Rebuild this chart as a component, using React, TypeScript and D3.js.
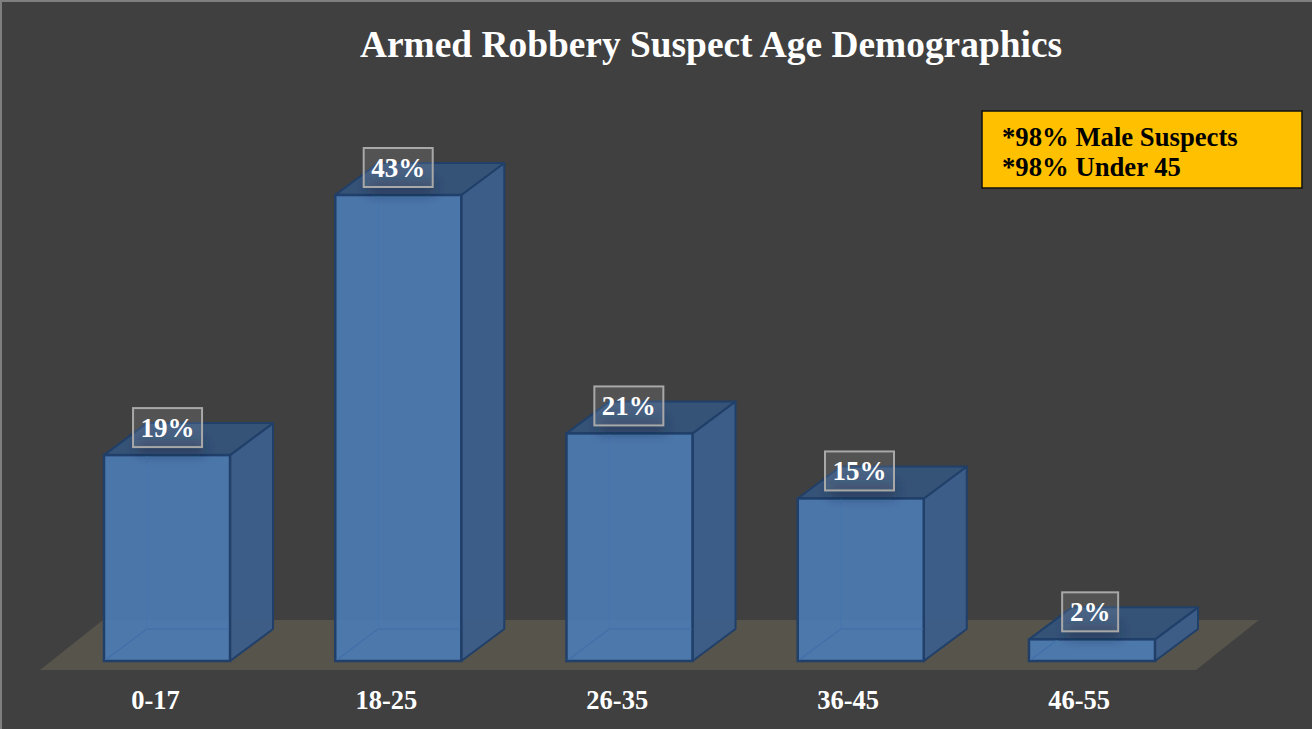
import React, { useEffect, useRef } from "react";
import * as d3 from "d3";

const categories = ["0-17", "18-25", "26-35", "36-45", "46-55"];
const values = [19, 43, 21, 15, 2];
const notes = ["*98% Male Suspects", "*98% Under 45"];
const title = "Armed Robbery Suspect Age Demographics";

const width = 1312;
const height = 729;
const serif = "'Liberation Serif', serif";

// 3d offset of the columns and the floor
const depthX = 43;
const depthY = -32;
const baseY = 661;

const App: React.FC = () => {
  const svgRef = useRef<SVGSVGElement | null>(null);

  useEffect(() => {
    document.body.style.margin = "0";
    if (!svgRef.current) return;

    const svg = d3.select(svgRef.current);
    svg.selectAll("*").remove();

    const x = d3.scaleBand<string>().domain(categories).range([104, 1155]).paddingInner(0.455).paddingOuter(0);
    // labels and ticks sit on a slightly tighter step than the columns
    const xLabel = d3.scaleBand<string>().domain(categories).range([104.7, 1153]).paddingInner(0.455).paddingOuter(0);
    const xTick = d3.scaleBand<string>().domain(categories).range([92.5, 1142]).paddingInner(0.455).paddingOuter(0);
    const y = d3.scaleLinear().domain([0, 43]).range([baseY, 195]);

    const defs = svg.append("defs");
    defs.append("filter")
      .attr("id", "soft")
      .attr("x", "-30%").attr("y", "-100%").attr("width", "160%").attr("height", "300%")
      .append("feGaussianBlur").attr("stdDeviation", 6);

    // background
    svg.append("rect").attr("width", width).attr("height", height).attr("fill", "#404040");
    svg.append("path").attr("d", `M1,${height}V1H${width}`).attr("fill", "none").attr("stroke", "#7f7f7f").attr("stroke-width", 2);

    // floor
    svg.append("path").attr("d", "M40,670L1196,670L1259,620L103,620Z").attr("fill", "#57544b");

    svg.append("text")
      .attr("x", 711).attr("y", 57)
      .attr("text-anchor", "middle")
      .style("font-family", serif).style("font-weight", "bold").style("font-size", "37.4px")
      .attr("fill", "#fff")
      .text(title);

    // columns
    const line = d3.line();
    const edge = "#203f69";
    categories.forEach((cat, i) => {
      const x0 = x(cat) ?? 0;
      const x1 = x0 + x.bandwidth();
      const top = y(values[i]);
      const g = svg.append("g");

      defs.append("clipPath").attr("id", `front-${i}`)
        .append("rect")
        .attr("x", x0 + 1).attr("y", top + 1)
        .attr("width", x.bandwidth() - 2).attr("height", baseY - top - 2);

      g.append("path")
        .attr("d", line([[x1, top], [x1 + depthX, top + depthY], [x1 + depthX, baseY + depthY], [x1, baseY]]) + "Z")
        .attr("fill", "#3c5e89").attr("fill-opacity", 0.97)
        .attr("stroke", edge).attr("stroke-width", 2).attr("stroke-linejoin", "round");
      g.append("path")
        .attr("d", line([[x0, top], [x0 + depthX, top + depthY], [x1 + depthX, top + depthY], [x1, top]]) + "Z")
        .attr("fill", "#355277")
        .attr("stroke", edge).attr("stroke-width", 2).attr("stroke-linejoin", "round");
      g.append("rect")
        .attr("x", x0).attr("y", top)
        .attr("width", x.bandwidth()).attr("height", baseY - top)
        .attr("fill", "#4c7cb6").attr("fill-opacity", 0.9)
        .attr("stroke", edge).attr("stroke-width", 2.5);

      // back edges, seen through the front face
      g.append("path")
        .attr("clip-path", `url(#front-${i})`)
        .attr("d", line([[x0, baseY], [x0 + depthX, baseY + depthY], [x1, baseY + depthY]]))
        .attr("fill", "none").attr("stroke", "#4270a9").attr("stroke-width", 1.5);
      g.append("path")
        .attr("clip-path", `url(#front-${i})`)
        .attr("d", line([[x0 + depthX, baseY + depthY], [x0 + depthX, top]]))
        .attr("fill", "none").attr("stroke", "#4675ae").attr("stroke-width", 1);
    });

    // value labels
    categories.forEach((cat, i) => {
      const center = (xLabel(cat) ?? 0) + xLabel.bandwidth() / 2;
      const top = y(values[i]);
      const label = `${values[i]}%`;
      const boxW = values[i] < 10 ? 56 : 69;
      const boxX = center - boxW / 2;
      const boxY = top - 47;
      svg.append("rect")
        .attr("x", boxX + 4).attr("y", boxY + 32)
        .attr("width", boxW - 2).attr("height", 14)
        .attr("fill", "#16263e").attr("fill-opacity", 0.42)
        .attr("filter", "url(#soft)");
      svg.append("rect")
        .attr("x", boxX).attr("y", boxY)
        .attr("width", boxW).attr("height", 39)
        .attr("fill", "#ffffff").attr("fill-opacity", 0.1)
        .attr("stroke", "#a8a8a8").attr("stroke-width", 2);
      svg.append("text")
        .attr("x", center).attr("y", boxY + 29)
        .attr("text-anchor", "middle")
        .style("font-family", serif).style("font-weight", "bold").style("font-size", "27px")
        .attr("fill", "#fff")
        .text(label);
    });

    // category axis
    const axis = svg.append("g")
      .attr("transform", `translate(0,${baseY})`)
      .call(d3.axisBottom(xTick).tickSize(0).tickPadding(29));
    axis.select(".domain").remove();
    axis.selectAll("text")
      .attr("fill", "#fff")
      .style("font-family", serif).style("font-weight", "bold").style("font-size", "26.5px");

    // note box
    svg.append("rect")
      .attr("x", 982).attr("y", 111).attr("width", 320).attr("height", 77)
      .attr("fill", "#ffc000").attr("stroke", "#111").attr("stroke-width", 1.5);
    notes.forEach((note, i) => {
      svg.append("text")
        .attr("x", 1002).attr("y", 146 + i * 30)
        .style("font-family", serif).style("font-weight", "bold").style("font-size", "26.7px")
        .attr("fill", "#000")
        .text(note);
    });
  }, []);

  return <svg ref={svgRef} width={width} height={height} style={{ display: "block" }}></svg>;
};

export default App;
